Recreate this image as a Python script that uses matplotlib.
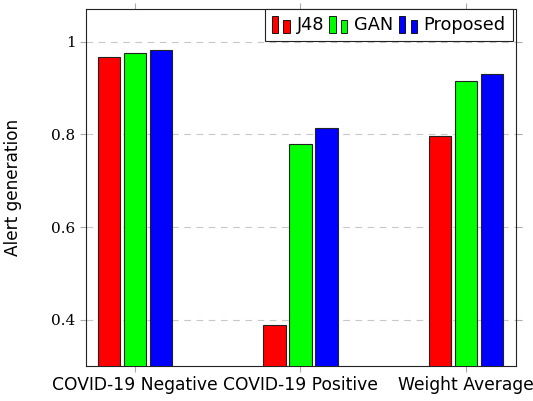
import matplotlib
matplotlib.use('Agg')
import matplotlib.pyplot as plt
import numpy as np
from matplotlib.patches import Rectangle
from matplotlib.legend_handler import HandlerBase

categories = ['COVID-19 Negative', 'COVID-19 Positive', 'Weight Average']
j48 = [0.968, 0.389, 0.796]
gan = [0.976, 0.779, 0.916]
proposed = [0.982, 0.813, 0.931]
series_names = ['J48', 'GAN', 'Proposed']
colors = ['#ff0000', '#00ff00', '#0000ff']


class TwoBarHandler(HandlerBase):
    # pgfplots-style ybar legend image: two little bars
    def create_artists(self, legend, orig_handle, xdescent, ydescent,
                       width, height, fontsize, trans):
        fc = orig_handle.get_facecolor()
        w = width * 0.32
        bars = [
            Rectangle((xdescent + width * 0.0, -ydescent - height * 0.2), w, height * 1.35,
                      facecolor=fc, edgecolor='black', lw=0.6, transform=trans),
            Rectangle((xdescent + width * 0.6, -ydescent - height * 0.2), w, height * 1.05,
                      facecolor=fc, edgecolor='black', lw=0.6, transform=trans),
        ]
        return bars


fig = plt.figure(figsize=(5.33, 4.01), dpi=100)
ax = fig.add_axes([0.1614, 0.0873, 0.8066, 0.8903])

x = np.arange(len(categories))
w = 0.135
step = 0.158
handles = []
for i, (vals, name, c) in enumerate(zip([j48, gan, proposed], series_names, colors)):
    b = ax.bar(x + (i - 1) * step, vals, w, color=c, edgecolor='#222222',
               linewidth=0.8, label=name, zorder=3)
    handles.append(b.patches[0])

sans = 'DejaVu Sans'
ax.set_xlim(-0.297, 2.303)
ax.set_ylim(0.30, 1.071)
ax.set_yticks([0.4, 0.6, 0.8, 1.0])
ax.set_yticklabels(['0.4', '0.6', '0.8', '1'], family='DejaVu Serif', fontsize=11)
ax.set_xticks(x)
ax.set_xticklabels(categories, family=sans, fontsize=12.3)
ax.tick_params(axis='both', direction='out', color='#aaaaaa', length=4, width=0.8,
               top=True, right=True)
ax.grid(axis='y', linestyle=(0, (6, 5)), color='#c8c8c8', linewidth=0.8, zorder=0)
for s in ax.spines.values():
    s.set_linewidth(0.8)
    s.set_color('#222222')
ax.set_ylabel('Alert generation', family=sans, fontsize=12.2, labelpad=21)

leg = ax.legend(handles, series_names, loc='upper right', ncol=3,
                bbox_to_anchor=(0.993, 1.0),
                handler_map={Rectangle: TwoBarHandler()},
                prop={'family': sans, 'size': 12.8}, frameon=True, fancybox=False,
                edgecolor='#222222', framealpha=1, borderaxespad=0.0,
                handlelength=1.1, handletextpad=0.3, columnspacing=0.3,
                borderpad=0.4)
leg.get_frame().set_linewidth(0.8)

fig.savefig('out.png', dpi=100)
